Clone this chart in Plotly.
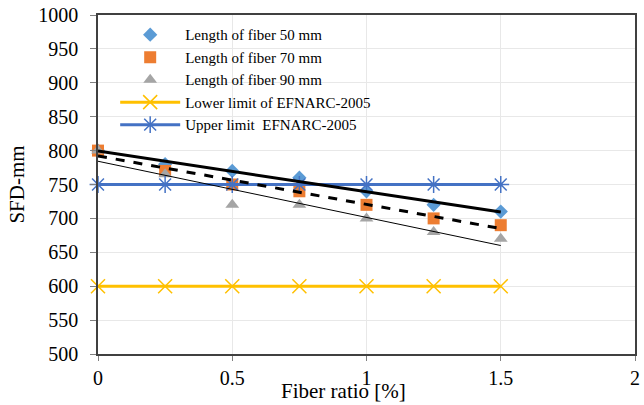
import numpy as np
import plotly.graph_objects as go

fiber_ratio = [0, 0.25, 0.5, 0.75, 1.0, 1.25, 1.5]
sfd_50mm = [800, 780, 770, 760, 740, 720, 710]
sfd_70mm = [800, 770, 750, 740, 720, 700, 690]
sfd_90mm = [800, 765, 720, 720, 700, 680, 670]
lower_limit = [600] * 7
upper_limit = [750] * 7

FONT = "Liberation Serif, Times New Roman, serif"

fig = go.Figure()

fig.add_trace(go.Scatter(x=fiber_ratio, y=sfd_50mm, mode="markers", name="Length of fiber 50 mm",
                         cliponaxis=False,
                         marker=dict(symbol="diamond", size=11, color="#5B9BD5")))
fig.add_trace(go.Scatter(x=fiber_ratio, y=sfd_70mm, mode="markers", name="Length of fiber 70 mm",
                         cliponaxis=False,
                         marker=dict(symbol="square", size=12, color="#ED7D31")))
fig.add_trace(go.Scatter(x=fiber_ratio, y=sfd_90mm, mode="markers", name="Length of fiber 90 mm",
                         cliponaxis=False,
                         marker=dict(symbol="triangle-up", size=12, color="#A5A5A5")))
fig.add_trace(go.Scatter(x=fiber_ratio, y=lower_limit, mode="lines+markers", name="Lower limit of EFNARC-2005",
                         cliponaxis=False,
                         line=dict(color="#FFC000", width=3),
                         marker=dict(symbol="x-thin-open", size=14, color="#FFC000", line=dict(width=1.5, color="#FFC000"))))
fig.add_trace(go.Scatter(x=fiber_ratio, y=upper_limit, mode="lines+markers", name="Upper limit  EFNARC-2005",
                         cliponaxis=False,
                         line=dict(color="#4472C4", width=3),
                         marker=dict(symbol="asterisk-open", size=14, color="#4472C4", line=dict(width=1.5, color="#4472C4"))))

x_arr = np.array(fiber_ratio)
xs = np.array([fiber_ratio[0], fiber_ratio[-1]])
for ys, dash, w in [(sfd_50mm, "solid", 3), (sfd_70mm, "dash", 3), (sfd_90mm, "solid", 1)]:
    k, b = np.polyfit(x_arr, np.array(ys), 1)
    fig.add_trace(go.Scatter(x=xs, y=k * xs + b, mode="lines", showlegend=False, hoverinfo="skip",
                             line=dict(color="black", width=w, dash=dash)))

fig.update_layout(
    width=644, height=405,
    margin=dict(l=98, r=4, t=15, b=51),
    paper_bgcolor="white", plot_bgcolor="white",
    font=dict(family=FONT, color="black", size=16),
    showlegend=True,
    legend=dict(x=0.032, y=0.99, xanchor="left", yanchor="top", bgcolor="rgba(0,0,0,0)",
                font=dict(family=FONT, size=15), itemwidth=60, tracegroupgap=0),
    xaxis=dict(range=[0, 2], dtick=0.5, tick0=0, showgrid=True, gridcolor="#E8E8E8", gridwidth=1,
               showline=True, linecolor="#404040", linewidth=1.5, mirror=True,
               ticks="outside", ticklen=5, tickcolor="#808080", zeroline=False,
               tickfont=dict(family=FONT, size=20)),
    yaxis=dict(range=[500, 1000], dtick=50, showgrid=True, gridcolor="#E8E8E8", gridwidth=1,
               showline=True, linecolor="#404040", linewidth=1.5, mirror=True,
               ticks="outside", ticklen=6, tickcolor="#808080", zeroline=False,
               ticklabelstandoff=8,
               tickfont=dict(family=FONT, size=20),
               title=dict(text="SFD-mm", font=dict(family=FONT, size=21), standoff=8)),
    annotations=[dict(text="Fiber ratio [%]", xref="paper", yref="paper", x=0.457, y=-0.068,
                      xanchor="center", yanchor="top", showarrow=False,
                      font=dict(family=FONT, size=21))],
)

fig.write_html("out.html")
